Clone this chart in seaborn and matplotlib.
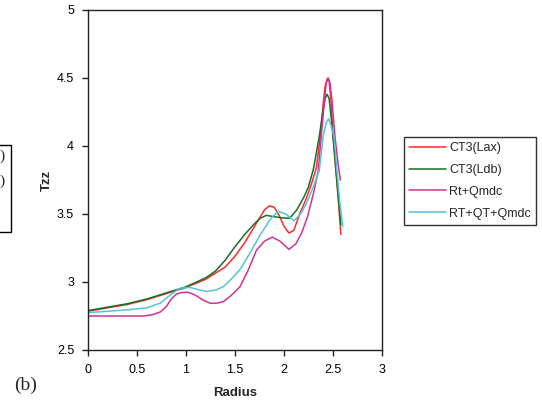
import matplotlib
matplotlib.use("Agg")
import matplotlib.pyplot as plt
from matplotlib.patches import Rectangle
from matplotlib.ticker import FuncFormatter, MultipleLocator
import seaborn as sns
import pandas as pd

# Tzz profiles against radius for four models
lax_x = [0, 0.2, 0.4, 0.6, 0.8, 1.0, 1.2, 1.4, 1.5, 1.6, 1.7, 1.75, 1.8, 1.85,
         1.9, 1.95, 2.0, 2.05, 2.1, 2.16, 2.22, 2.28, 2.33, 2.37, 2.40, 2.42,
         2.44, 2.45, 2.46, 2.48, 2.50, 2.53, 2.56, 2.58]
lax_y = [2.785, 2.81, 2.835, 2.87, 2.915, 2.96, 3.02, 3.11, 3.19, 3.29, 3.41,
         3.47, 3.53, 3.56, 3.55, 3.49, 3.41, 3.36, 3.38, 3.50, 3.60, 3.72, 3.84,
         4.07, 4.31, 4.44, 4.49, 4.50, 4.48, 4.33, 4.07, 3.82, 3.55, 3.35]

ldb_x = [0, 0.2, 0.4, 0.6, 0.8, 1.0, 1.2, 1.3, 1.4, 1.5, 1.6, 1.7, 1.76, 1.82,
         1.9, 2.0, 2.06, 2.13, 2.2, 2.25, 2.30, 2.36, 2.40, 2.42, 2.44, 2.46,
         2.48, 2.50, 2.53, 2.56, 2.58]
ldb_y = [2.79, 2.815, 2.84, 2.875, 2.92, 2.965, 3.03, 3.08, 3.16, 3.26, 3.35,
         3.43, 3.47, 3.49, 3.48, 3.47, 3.47, 3.53, 3.62, 3.70, 3.83, 4.07, 4.27,
         4.35, 4.38, 4.35, 4.22, 4.07, 3.82, 3.58, 3.42]

rtq_x = [0, 0.2, 0.4, 0.57, 0.66, 0.74, 0.8, 0.85, 0.9, 0.95, 1.01, 1.06, 1.11,
         1.18, 1.25, 1.32, 1.38, 1.46, 1.55, 1.63, 1.72, 1.80, 1.88, 1.96, 2.05,
         2.12, 2.18, 2.24, 2.30, 2.35, 2.38, 2.41, 2.43, 2.45, 2.47, 2.49, 2.52,
         2.55, 2.575]
rtq_y = [2.75, 2.75, 2.75, 2.75, 2.76, 2.78, 2.82, 2.875, 2.91, 2.922, 2.925,
         2.915, 2.897, 2.865, 2.843, 2.845, 2.855, 2.90, 2.965, 3.08, 3.235, 3.30,
         3.33, 3.30, 3.24, 3.28, 3.36, 3.48, 3.65, 3.82, 4.07, 4.31, 4.46, 4.50,
         4.46, 4.33, 4.07, 3.88, 3.75]

rtqt_x = [0, 0.2, 0.4, 0.6, 0.74, 0.85, 0.94, 1.04, 1.12, 1.21, 1.3, 1.38, 1.46,
          1.55, 1.65, 1.76, 1.86, 1.94, 2.02, 2.10, 2.17, 2.23, 2.30, 2.36, 2.40,
          2.43, 2.455, 2.48, 2.51, 2.54, 2.57, 2.60]
rtqt_y = [2.775, 2.785, 2.795, 2.81, 2.845, 2.91, 2.955, 2.96, 2.945, 2.93, 2.94,
          2.965, 3.02, 3.09, 3.21, 3.35, 3.46, 3.52, 3.50, 3.45, 3.50, 3.58, 3.70,
          3.82, 4.07, 4.17, 4.20, 4.15, 4.07, 3.82, 3.58, 3.41]

series_names = ["CT3(Lax)", "CT3(Ldb)", "Rt+Qmdc", "RT+QT+Qmdc"]
series_colors = ["#ff2a2a", "#1a6e2a", "#cc3399", "#55c4d8"]

frames = []
for name, xs, ys in zip(series_names,
                        [lax_x, ldb_x, rtq_x, rtqt_x],
                        [lax_y, ldb_y, rtq_y, rtqt_y]):
    frames.append(pd.DataFrame({"Radius": xs, "Tzz": ys, "model": name}))
df = pd.concat(frames, ignore_index=True)

sns.set_style("white")
plt.rcParams["font.family"] = ["Liberation Sans", "DejaVu Sans"]

fig = plt.figure(figsize=(5.42, 4.04), dpi=100)
ax = fig.add_axes([88 / 542, 1 - 350 / 404, (382 - 88) / 542, (350 - 10) / 404])

sns.lineplot(data=df, x="Radius", y="Tzz", hue="model", hue_order=series_names,
             palette=series_colors, sort=False, estimator=None, linewidth=1.1,
             ax=ax, legend=True)

ax.set_xlim(0, 3)
ax.set_ylim(2.5, 5)
ax.xaxis.set_major_locator(MultipleLocator(0.5))
ax.yaxis.set_major_locator(MultipleLocator(0.5))
fmt = FuncFormatter(lambda v, p: f"{v:g}")
ax.xaxis.set_major_formatter(fmt)
ax.yaxis.set_major_formatter(fmt)
ax.tick_params(axis="both", direction="out", length=4, width=1, colors="#222222",
               labelsize=9, labelcolor="black", pad=6)
ax.tick_params(top=False, right=False, bottom=True, left=True)
for side in ["left", "bottom", "top", "right"]:
    ax.spines[side].set_visible(True)
    ax.spines[side].set_color("#222222")
    ax.spines[side].set_linewidth(1.0)

ax.set_xlabel("Radius", fontsize=9.5, fontweight="bold", labelpad=8)
ax.set_ylabel("Tzz", fontsize=9.5, fontweight="bold", labelpad=3)

leg = ax.legend(loc="upper left", bbox_to_anchor=(404 / 542, 1 - 137 / 404),
                bbox_transform=fig.transFigure, frameon=True, fancybox=False,
                fontsize=9, handlelength=2.9, handletextpad=0.3,
                labelspacing=0.78, borderpad=0.42, borderaxespad=0)
leg.get_frame().set_edgecolor("black")
leg.get_frame().set_linewidth(1.0)

# neighbouring panel's legend frame at the left edge
fig.patches.append(Rectangle((-10 / 542, 1 - 232 / 404), 21 / 542, 87 / 404,
                             transform=fig.transFigure, fill=False,
                             edgecolor="black", linewidth=1.0))
for yy in [156, 181]:
    fig.text(5 / 542, 1 - yy / 404, ")", ha="right", va="center",
             fontsize=11, family="Liberation Serif")

fig.text(26 / 542, 1 - 385 / 404, "(b)", ha="center", va="center",
         fontsize=14, family="Liberation Serif")

fig.savefig("out.png", dpi=100)
